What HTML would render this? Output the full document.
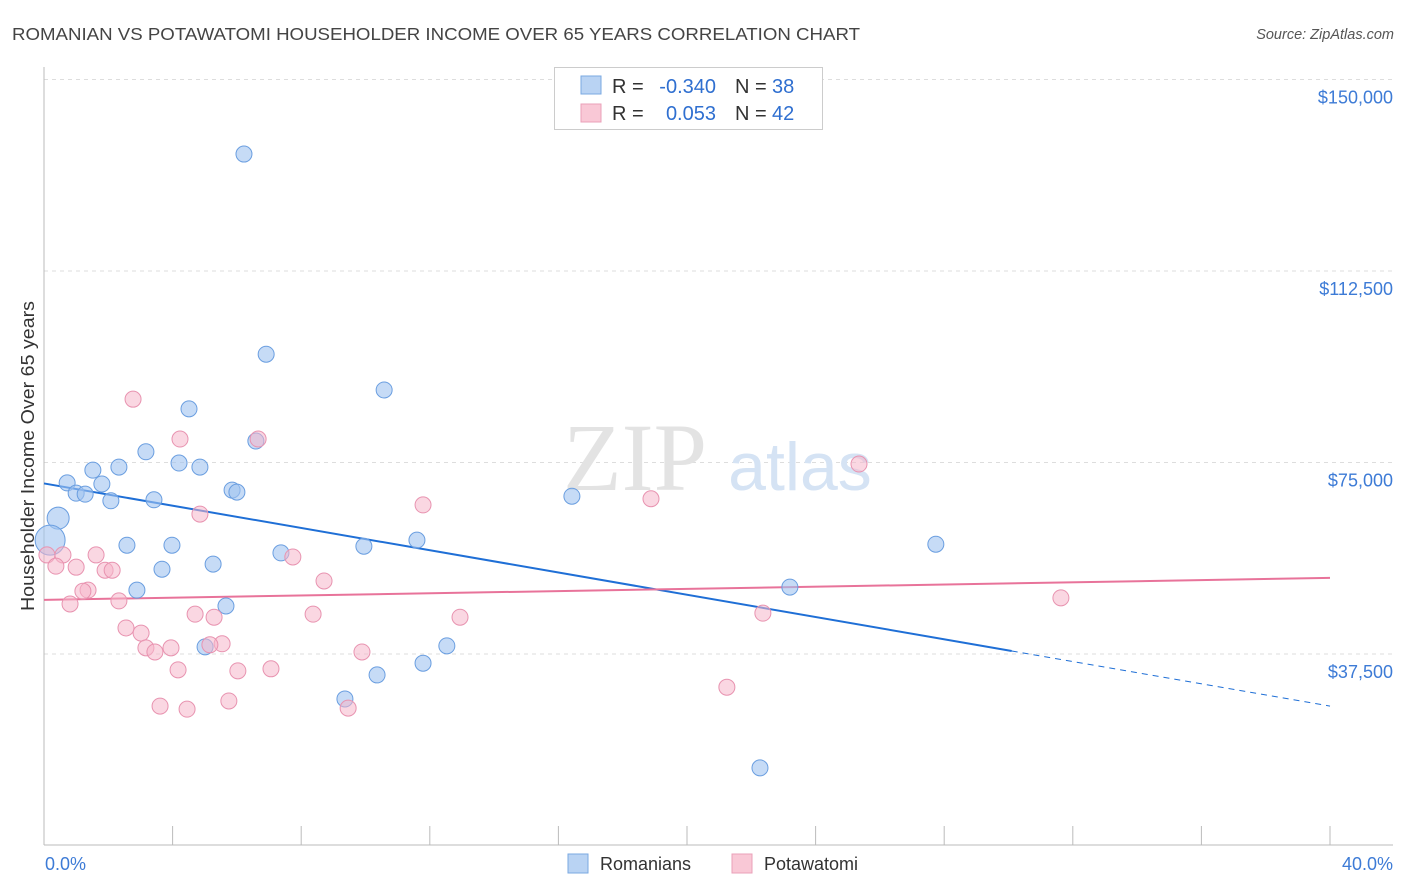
<!DOCTYPE html>
<html><head><meta charset="utf-8">
<style>
body{margin:0;background:#fff;font-family:"Liberation Sans",sans-serif;}
svg{display:block}
</style></head>
<body>
<svg id="chart" width="1406" height="892" viewBox="0 0 1406 892">
<text x="12" y="40" font-size="17.5" fill="#444" textLength="848" lengthAdjust="spacingAndGlyphs">ROMANIAN VS POTAWATOMI HOUSEHOLDER INCOME OVER 65 YEARS CORRELATION CHART</text>
<text x="1394" y="39" font-size="14.5" fill="#555" font-style="italic" text-anchor="end">Source: ZipAtlas.com</text>
<g id="grid"></g>
<g>
<text x="635" y="490" font-family="Liberation Serif,serif" font-size="96" fill="#e3e3e3" text-anchor="middle">ZIP</text>
<text x="800" y="490" font-size="68" fill="#d5e3f4" text-anchor="middle">atlas</text>
</g>
<g id="axes"></g>
<g id="lines"></g>
<g id="points"></g>
<text transform="translate(34,456) rotate(-90)" font-size="18" fill="#333" text-anchor="middle" textLength="310" lengthAdjust="spacingAndGlyphs">Householder Income Over 65 years</text>
<text x="45" y="870" font-size="18" fill="#3d7bd6">0.0%</text>
<text x="1393" y="870" font-size="18" fill="#3d7bd6" text-anchor="end">40.0%</text>
<g font-size="20">
<rect x="554.5" y="67.5" width="268" height="62" fill="#fff" stroke="#ccc"/>
<rect x="581" y="76" width="20" height="18" fill="#b9d3f3" stroke="#7aa8e2"/>
<rect x="581" y="104" width="20" height="18" fill="#f9c8d6" stroke="#eaa0b8"/>
<text x="612" y="93" fill="#333">R =</text>
<text x="716" y="93" fill="#2f6fd0" text-anchor="end">-0.340</text>
<text x="735" y="93" fill="#333">N =</text>
<text x="772" y="93" fill="#2f6fd0">38</text>
<text x="612" y="120" fill="#333">R =</text>
<text x="716" y="120" fill="#2f6fd0" text-anchor="end">0.053</text>
<text x="735" y="120" fill="#333">N =</text>
<text x="772" y="120" fill="#2f6fd0">42</text>
</g>
<g>
<rect x="568" y="854" width="20" height="19" fill="#b9d3f3" stroke="#7aa8e2"/>
<text x="600" y="870" font-size="18" fill="#333">Romanians</text>
<rect x="732" y="854" width="20" height="19" fill="#f9c8d6" stroke="#eaa0b8"/>
<text x="764" y="870" font-size="18" fill="#333">Potawatomi</text>
</g>
</svg>
<script>
const yTicks=[37.5,75,112.5,150];
const yTickLabels=["$37,500","$75,000","$112,500","$150,000"];
const xTicks=[4,8,12,16,20,24,28,32,36,40];
const blueX=[6.22,6.91,10.58,4.51,6.59,3.17,1.52,2.33,4.20,4.85,0.72,1.80,1.00,1.28,5.85,6.00,2.08,3.42,16.42,0.44,0.19,2.58,3.98,9.95,11.60,27.74,7.37,5.26,3.67,23.20,2.89,5.66,12.53,5.01,11.79,10.36,9.36,22.27];
const blueY=[135.4,96.2,89.2,85.5,79.2,77.1,73.5,74.1,74.9,74.1,71.0,70.8,69.0,68.8,69.6,69.2,67.5,67.7,68.4,64.1,59.8,58.8,58.8,58.6,59.8,59.0,57.3,55.1,54.1,50.6,50.0,46.9,39.1,38.9,35.7,33.4,28.7,15.2];
const blueR=[8,8,8,8,8,8,8,8,8,8,8,8,8,8,8,8,8,8,8,11,15,8,8,8,8,8,8,8,8,8,8,8,8,8,8,8,8,8];
const pinkX=[2.77,4.23,6.66,25.35,18.88,11.79,4.85,0.09,0.59,1.62,7.74,0.37,1.00,1.90,2.12,8.71,1.37,1.21,2.33,31.63,0.81,4.70,8.37,5.29,12.94,22.36,2.55,3.02,5.54,5.16,3.17,3.95,3.45,9.89,4.17,6.03,7.06,21.24,5.75,3.61,4.45,9.46];
const pinkY=[87.4,79.6,79.6,74.7,67.9,66.7,64.9,56.9,56.9,56.9,56.5,54.7,54.5,53.9,53.9,51.8,50.0,49.8,47.9,48.5,47.3,45.3,45.3,44.7,44.7,45.5,42.6,41.6,39.5,39.3,38.7,38.7,37.9,37.9,34.4,34.2,34.6,31.0,28.3,27.3,26.7,26.9];
const blueTrend=[70.9,27.3]; const blueSolidEnd=30.1;
const pinkTrend=[48.1,52.4];
const NS="http://www.w3.org/2000/svg";
const X=v=>44+v/40*1286;
const Y=v=>845.5-v/37.5*191.5;
function mk(tag,attrs,parent){const e=document.createElementNS(NS,tag);for(const k in attrs)e.setAttribute(k,attrs[k]);parent.appendChild(e);return e;}
const grid=document.getElementById('grid'),axes=document.getElementById('axes'),lines=document.getElementById('lines'),pts=document.getElementById('points');
yTicks.forEach((t,i)=>{
 const l=mk('line',{x1:44,x2:1393,y1:Y(t),y2:Y(t),stroke:'#ddd','stroke-dasharray':'4,4'},grid);
 
 
 const tx=mk('text',{x:1393,y:Y(t)+24,'font-size':18,fill:'#3d7bd6','text-anchor':'end'},grid);
 tx.textContent=yTickLabels[i];
 
 
});
mk('line',{x1:44,x2:44,y1:67,y2:845,stroke:'#bbb'},axes);
mk('line',{x1:44,x2:1393,y1:845,y2:845,stroke:'#bbb'},axes);
xTicks.forEach(t=>{
 const l=mk('line',{x1:X(t),x2:X(t),y1:826,y2:845,stroke:'#bbb'},axes);
 
 
});
let l1=mk('line',{x1:X(0),y1:Y(blueTrend[0]),x2:X(blueSolidEnd),y2:Y(blueTrend[0]+(blueTrend[1]-blueTrend[0])*blueSolidEnd/40),stroke:'#1f6fd6','stroke-width':2},lines);


let l2=mk('line',{x1:X(blueSolidEnd),y1:Y(blueTrend[0]+(blueTrend[1]-blueTrend[0])*blueSolidEnd/40),x2:X(40),y2:Y(blueTrend[1]),stroke:'#1f6fd6','stroke-width':1,'stroke-dasharray':'6,5'},lines);


blueX.forEach((x,i)=>{
 const c=mk('circle',{cx:X(x),cy:Y(blueY[i]),r:blueR[i],fill:'rgba(160,195,240,0.6)',stroke:'#6a9ee0','stroke-width':1},pts);
 
 
});
pinkX.forEach((x,i)=>{
 const c=mk('circle',{cx:X(x),cy:Y(pinkY[i]),r:8,fill:'rgba(246,182,202,0.55)',stroke:'#e893b0','stroke-width':1},pts);
 
 
});
let l3=mk('line',{x1:X(0),y1:Y(pinkTrend[0]),x2:X(40),y2:Y(pinkTrend[1]),stroke:'#e8739a','stroke-width':2},lines);


</script>
</body></html>
